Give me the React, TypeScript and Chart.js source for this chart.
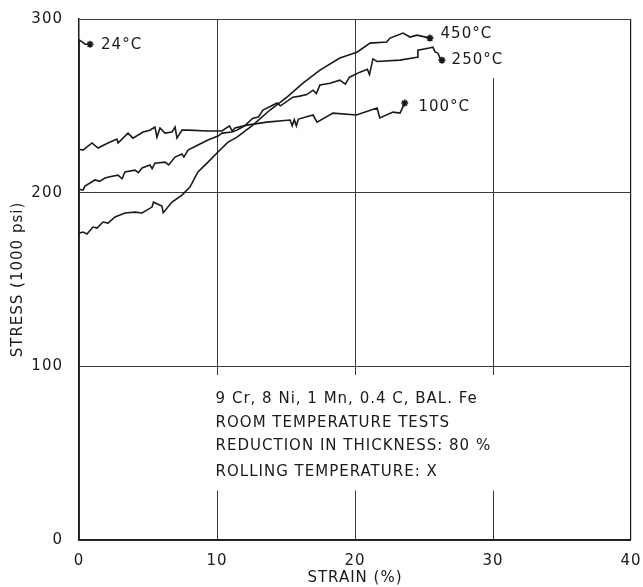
import React, { useEffect, useRef } from 'react';
import { Chart, registerables } from 'chart.js';

Chart.register(...registerables);

// ---- data (strain %, stress 1000 psi) ----
const strain24 = [0, 0, 0.2, 0.45, 0.8];
const stress24 = [0, 288, 287, 285.5, 285.5];

const strain100 = [0, 0.29, 0.94, 1.38, 2.1, 2.75, 2.83, 3.55, 3.91, 4.64, 5.14, 5.5, 5.65, 5.87, 6.23, 6.74, 6.96, 7.1, 7.46, 7.9, 9.35, 10.36, 10.9, 11.1, 11.3, 12.17, 13.6, 15.3, 15.45, 15.6, 15.75, 15.9, 16.96, 17.25, 18.4, 20.1, 21.6, 21.8, 22.75, 23.26, 23.6];
const stress100 = [225, 224.5, 228.6, 225.7, 228.6, 230.9, 228.6, 234.3, 231.4, 234.9, 236, 237.8, 232, 237.2, 234.3, 234.9, 237.8, 231.4, 236, 236, 235.5, 235.5, 238.5, 235.5, 237.2, 238.9, 240.6, 241.8, 238.5, 242, 238.5, 242.4, 244.7, 240.6, 245.8, 244.7, 248.7, 243, 246.4, 245.8, 251.6];

const strain250 = [0, 0.29, 0.43, 1.16, 1.5, 1.88, 2.4, 2.83, 3.12, 3.33, 4.06, 4.3, 4.57, 5.14, 5.3, 5.5, 6.23, 6.5, 6.96, 7.46, 7.6, 7.9, 8.62, 9.35, 10.07, 10.36, 11.09, 11.45, 12.0, 12.6, 13.0, 13.33, 14.35, 14.6, 15.5, 16.0, 16.5, 16.96, 17.2, 17.46, 18.2, 18.9, 19.3, 19.6, 20.36, 20.9, 21.05, 21.3, 21.6, 23.26, 24.5, 24.56, 25.3, 25.65, 25.8, 26.0, 26.16, 26.3];
const stress250 = [202, 201.5, 203.8, 207.3, 206.5, 208.4, 209.5, 210.1, 208, 211.9, 213, 211.5, 214.2, 215.9, 213.8, 217, 217.6, 216, 220.5, 222.2, 220.5, 224.5, 227.4, 230.3, 232.6, 234.3, 234.9, 236, 238.5, 242.9, 243.5, 247.6, 251.6, 250, 255, 255.6, 256.5, 259, 257, 262, 263, 264.8, 262.5, 266.5, 269.4, 271, 268, 277, 275.5, 276.3, 278, 282, 283.2, 283.8, 281, 280.4, 277.5, 276.3];

const strain450 = [0, 0.29, 0.58, 1.01, 1.3, 1.74, 2.1, 2.61, 3.33, 4.06, 4.57, 5.29, 5.4, 6.01, 6.1, 6.74, 7.46, 8.04, 8.62, 9.35, 10.07, 10.8, 11.45, 12.6, 13.84, 15.07, 16.23, 17.46, 18.9, 20.14, 21.09, 22.3, 22.54, 23.48, 23.99, 24.49, 25.43];
const stress450 = [176.7, 177.3, 176.2, 180.2, 179.6, 183.1, 182.5, 186, 188.3, 188.8, 188.3, 191.7, 194.5, 192.3, 188.5, 194.6, 198.6, 203.2, 211.9, 217.6, 223.4, 229.1, 232, 238.9, 247.6, 255, 263.1, 270.6, 277.5, 280.9, 286.1, 286.7, 289, 291.9, 289.6, 290.7, 289];

const xTicks = [0, 10, 20, 30, 40];
const yTicks = [0, 100, 200, 300];

const curveLabels = ['24°C', '450°C', '250°C', '100°C'];
const curveLabelX = [1.6, 26.2, 27.0, 24.6];
const curveLabelY = [285, 291.5, 276.5, 249.5];

const noteLines = [
  '9 Cr, 8 Ni, 1 Mn, 0.4 C, BAL. Fe',
  'ROOM TEMPERATURE TESTS',
  'REDUCTION IN THICKNESS: 80 %',
  'ROLLING TEMPERATURE: X',
];
const noteX = 9.9;
const noteY = [81, 67.4, 54.1, 39.1];

// vertical grid segments (strain, stress from, stress to)
const vGridX = [10, 20, 30, 10, 20, 30];
const vGridFrom = [300, 300, 266, 28.5, 28.5, 28.5];
const vGridTo = [95, 95, 95, 0, 0, 0];

const FONT = "'DejaVu Sans', sans-serif";
const INK = '#1a1a1a';

function toPts(xs: number[], ys: number[]) {
  return xs.map((x, i) => ({ x, y: ys[i] }));
}

function series(xs: number[], ys: number[], star: boolean) {
  const n = xs.length;
  return {
    data: toPts(xs, ys),
    borderColor: INK,
    backgroundColor: INK,
    borderWidth: 1.6,
    tension: 0,
    showLine: true,
    pointStyle: 'star',
    pointRadius: xs.map((_, i) => (star && i === n - 1 ? 3.5 : 0)),
    pointBorderWidth: 1.6,
    pointBorderColor: INK,
  };
}

const decorPlugin = {
  id: 'decor',
  beforeDraw(chart: any) {
    chart.ctx.letterSpacing = '1px';
  },
  beforeDatasetsDraw(chart: any) {
    const { ctx, scales } = chart;
    const xs = scales.x;
    const ys = scales.y;
    ctx.save();
    ctx.strokeStyle = '#3a3a3a';
    ctx.lineWidth = 1;
    for (let i = 0; i < vGridX.length; i++) {
      const px = Math.round(xs.getPixelForValue(vGridX[i])) + 0.5;
      ctx.beginPath();
      ctx.moveTo(px, ys.getPixelForValue(vGridFrom[i]));
      ctx.lineTo(px, ys.getPixelForValue(vGridTo[i]));
      ctx.stroke();
    }
    ctx.restore();
  },
  afterDatasetsDraw(chart: any) {
    const { ctx, scales } = chart;
    const xs = scales.x;
    const ys = scales.y;
    ctx.save();
    ctx.fillStyle = INK;
    ctx.font = `15px ${FONT}`;
    ctx.letterSpacing = '1px';
    ctx.textBaseline = 'middle';
    ctx.textAlign = 'left';
    for (let i = 0; i < curveLabels.length; i++) {
      ctx.fillText(curveLabels[i], xs.getPixelForValue(curveLabelX[i]), ys.getPixelForValue(curveLabelY[i]));
    }
    for (let i = 0; i < noteLines.length; i++) {
      ctx.fillText(noteLines[i], xs.getPixelForValue(noteX), ys.getPixelForValue(noteY[i]));
    }
    ctx.restore();
  },
  afterDraw(chart: any) {
    chart.ctx.letterSpacing = '0px';
  },
};

export default function App() {
  const ref = useRef<HTMLCanvasElement | null>(null);
  useEffect(() => {
    if (!ref.current) return;
    const chart = new Chart(ref.current, {
      type: 'scatter',
      data: {
        datasets: [
          series(strain24, stress24, true),
          series(strain450, stress450, true),
          series(strain250, stress250, true),
          series(strain100, stress100, true),
        ] as any,
      },
      options: {
        animation: false,
        responsive: true,
        maintainAspectRatio: false,
        layout: { padding: { left: 0, top: 19, right: 12, bottom: 0 } },
        plugins: { legend: { display: false }, tooltip: { enabled: false } },
        scales: {
          x: {
            type: 'linear',
            min: 0,
            max: 40,
            afterBuildTicks: (s: any) => { s.ticks = xTicks.map((v) => ({ value: v })); },
            afterFit: (s: any) => { s.height = 47; s.paddingLeft = 0; s.paddingRight = 0; },
            grid: {
              drawTicks: false,
              color: (c: any) => (c.tick && c.tick.value === 40 ? '#1a1a1a' : 'rgba(0,0,0,0)'),
              lineWidth: 1.2,
            },
            border: { display: true, color: INK, width: 1.5 },
            ticks: { color: INK, font: { family: FONT, size: 15 }, padding: 12, maxRotation: 0 },
            title: { display: true, text: 'STRAIN (%)', color: INK, font: { family: FONT, size: 15 }, padding: { top: 0, bottom: 0 } },
          },
          y: {
            type: 'linear',
            min: 0,
            max: 300,
            afterBuildTicks: (s: any) => { s.ticks = yTicks.map((v) => ({ value: v })); },
            afterFit: (s: any) => { s.width = 79; s.paddingTop = 0; s.paddingBottom = 0; },
            grid: { drawTicks: false, color: '#3a3a3a', lineWidth: 1 },
            border: { display: true, color: INK, width: 1.5 },
            ticks: { color: INK, font: { family: FONT, size: 15 }, padding: 16 },
            title: { display: true, text: 'STRESS (1000 psi)', color: INK, font: { family: FONT, size: 15 }, padding: { top: 9, bottom: 0 } },
          },
        },
      } as any,
      plugins: [decorPlugin],
    });
    return () => chart.destroy();
  }, []);
  return (
    <div style={{ position: 'fixed', left: 0, top: 0, width: 643, height: 587, background: '#fff' }}>
      <canvas ref={ref} />
    </div>
  );
}
